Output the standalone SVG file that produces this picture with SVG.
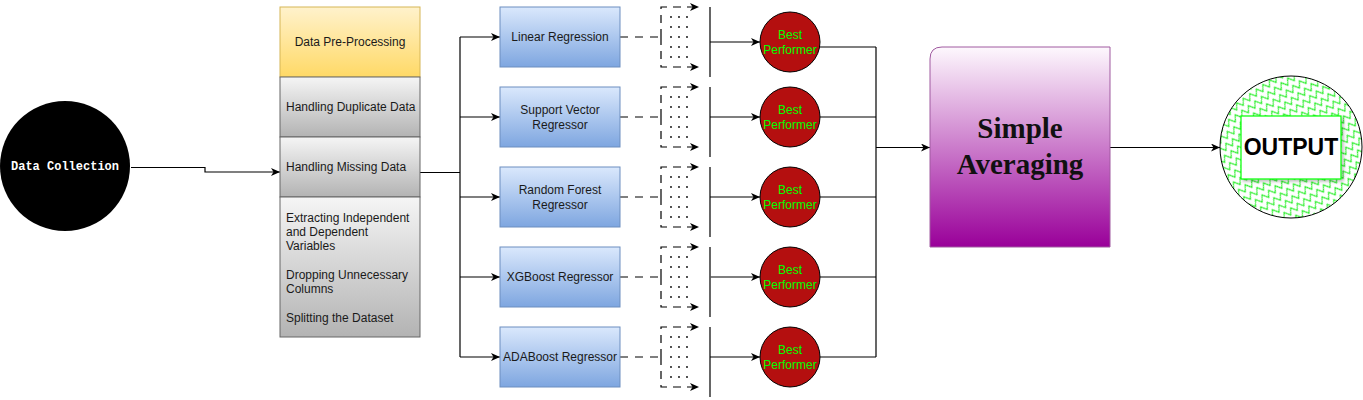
<svg xmlns="http://www.w3.org/2000/svg" width="1363" height="400" viewBox="0 0 1363 400">
<style>
.t{font-family:"Liberation Sans",Arial,sans-serif;font-size:12px;fill:#1a1a1a}
.mid{text-anchor:middle}
.bp{font-family:"Liberation Sans",Arial,sans-serif;font-size:12px;fill:#00ff00;text-anchor:middle}
.ln{fill:none;stroke:#000;stroke-width:1.2}
.arr{fill:none;stroke:#000;stroke-width:1.2;marker-end:url(#ah)}
.dash{fill:none;stroke:#000;stroke-width:1.2;stroke-dasharray:8 7}
.dasha{fill:none;stroke:#000;stroke-width:1.2;stroke-dasharray:8 6;marker-end:url(#ah)}
.gray{fill:url(#gGray);stroke:#666;stroke-width:1}
.model{fill:url(#gBlue);stroke:#6c8ebf;stroke-width:1}
.best{fill:#b40f0f;stroke:#000;stroke-width:1}
.dot{fill:#000}
</style>
<defs>
<marker id="ah" markerUnits="userSpaceOnUse" markerWidth="10" markerHeight="8" refX="9" refY="4" orient="auto">
<path d="M0,0 L9,4 L0,8 L2.5,4 z" fill="#000"/>
</marker>
<linearGradient id="gGray" x1="0" y1="0" x2="0" y2="1"><stop offset="0" stop-color="#f5f5f5"/><stop offset="1" stop-color="#b3b3b3"/></linearGradient>
<linearGradient id="gYel" x1="0" y1="0" x2="0" y2="1"><stop offset="0" stop-color="#fff2cc"/><stop offset="1" stop-color="#ffd966"/></linearGradient>
<linearGradient id="gBlue" x1="0" y1="0" x2="0" y2="1"><stop offset="0" stop-color="#dae8fc"/><stop offset="1" stop-color="#7ea6e0"/></linearGradient>
<linearGradient id="gPur" x1="0" y1="0" x2="0" y2="1"><stop offset="0" stop-color="#fdf8fd"/><stop offset="1" stop-color="#990099"/></linearGradient>
<pattern id="zig" patternUnits="userSpaceOnUse" width="8" height="9" patternTransform="rotate(-35)">
<path d="M0,4.5 L2,1.5 L6,7.5 L8,4.5" fill="none" stroke="#22ee22" stroke-width="1.2"/>
</pattern>
<filter id="sh" x="-10%" y="-10%" width="130%" height="130%"><feDropShadow dx="2" dy="2" stdDeviation="1.5" flood-color="#000" flood-opacity="0.25"/></filter>
<g id="dots">
<circle class="dot" cx="671" cy="-20" r="0.9"/><circle class="dot" cx="679" cy="-20" r="0.9"/><circle class="dot" cx="687" cy="-20" r="0.9"/>
<circle class="dot" cx="671" cy="-10" r="0.9"/><circle class="dot" cx="679" cy="-10" r="0.9"/><circle class="dot" cx="687" cy="-10" r="0.9"/>
<circle class="dot" cx="671" cy="0" r="0.9"/><circle class="dot" cx="679" cy="0" r="0.9"/><circle class="dot" cx="687" cy="0" r="0.9"/>
<circle class="dot" cx="671" cy="10" r="0.9"/><circle class="dot" cx="679" cy="10" r="0.9"/><circle class="dot" cx="687" cy="10" r="0.9"/>
<circle class="dot" cx="671" cy="20" r="0.9"/><circle class="dot" cx="679" cy="20" r="0.9"/><circle class="dot" cx="687" cy="20" r="0.9"/>
</g>
</defs>
<rect width="1363" height="400" fill="#fff"/>

<g id="connectors">
<path class="arr" d="M131,167.5 H205 V172 H280"/>
<path class="ln" d="M420,172.5 H460"/>
<path class="ln" d="M460,37 V357"/>
<path class="arr" d="M460,37 H500"/>
<path class="arr" d="M460,117 H500"/>
<path class="arr" d="M460,197 H500"/>
<path class="arr" d="M460,277 H500"/>
<path class="arr" d="M460,357 H500"/>
<path class="dash" d="M620,37 H661"/>
<path class="dash" d="M620,117 H661"/>
<path class="dash" d="M620,197 H661"/>
<path class="dash" d="M620,277 H661"/>
<path class="dash" d="M620,357 H661"/>
<path class="ln" d="M710,7 V77 M710,87 V157 M710,167 V237 M710,247 V317 M710,327 V397"/>
<path class="arr" d="M710,42 H760"/>
<path class="arr" d="M710,117 H760"/>
<path class="arr" d="M710,197 H760"/>
<path class="arr" d="M710,277 H760" style="stroke:#555;stroke-width:1.6"/>
<path class="arr" d="M710,357 H760"/>
<path class="ln" d="M819,47 H876 M820,117 H876 M820,197 H876 M820,277 H876 M820,357 H876"/>
<path class="ln" d="M876,47 V357"/>
<path class="arr" d="M876,147.5 H930"/>
<path class="arr" d="M1110,147.5 H1220"/>
</g>

<g id="data-collection">
<circle cx="65" cy="166" r="65" fill="#000"/>
<text x="65" y="170" text-anchor="middle" font-family="'Liberation Mono','DejaVu Sans Mono',monospace" font-weight="bold" font-size="12" fill="#fff">Data Collection</text>
</g>

<g id="pre-processing">
<rect x="280" y="7" width="140" height="70" fill="url(#gYel)" stroke="#d6b656"/>
<text class="t mid" x="350" y="45.5">Data Pre-Processing</text>
</g>
<g id="duplicate">
<rect class="gray" x="280" y="77" width="140" height="60"/>
<text class="t" x="286" y="110.5">Handling Duplicate Data</text>
</g>
<g id="missing">
<rect class="gray" x="280" y="137" width="140" height="60"/>
<text class="t" x="286" y="170.5">Handling Missing Data</text>
</g>
<g id="other-steps">
<rect class="gray" x="280" y="197" width="140" height="140"/>
<text class="t" x="286" y="221.5">Extracting Independent</text>
<text class="t" x="286" y="235.8">and Dependent</text>
<text class="t" x="286" y="250.1">Variables</text>
<text class="t" x="286" y="278.7">Dropping Unnecessary</text>
<text class="t" x="286" y="293">Columns</text>
<text class="t" x="286" y="321.5">Splitting the Dataset</text>
</g>

<g id="linear">
<rect class="model" x="500" y="7" width="120" height="60"/>
<text class="t mid" x="560" y="41">Linear Regression</text>
</g>
<g id="svr">
<rect class="model" x="500" y="87" width="120" height="60"/>
<text class="t mid" x="560" y="113.5">Support Vector</text>
<text class="t mid" x="560" y="128.5">Regressor</text>
</g>
<g id="rf">
<rect class="model" x="500" y="167" width="120" height="60"/>
<text class="t mid" x="560" y="193.5">Random Forest</text>
<text class="t mid" x="560" y="208.5">Regressor</text>
</g>
<g id="xgb">
<rect class="model" x="500" y="247" width="120" height="60"/>
<text class="t mid" x="560" y="281">XGBoost Regressor</text>
</g>
<g id="ada">
<rect class="model" x="500" y="327" width="120" height="60"/>
<text class="t mid" x="560" y="361">ADABoost Regressor</text>
</g>

<g id="bracket-1">
<path class="dasha" d="M661,37 V7 H699"/><path class="dasha" d="M661,37 V67 H699"/>
<use href="#dots" y="37"/>
</g>
<g id="bracket-2">
<path class="dasha" d="M661,117 V87 H699"/><path class="dasha" d="M661,117 V147 H699"/>
<use href="#dots" y="117"/>
</g>
<g id="bracket-3">
<path class="dasha" d="M661,197 V167 H699"/><path class="dasha" d="M661,197 V227 H699"/>
<use href="#dots" y="197"/>
</g>
<g id="bracket-4">
<path class="dasha" d="M661,277 V247 H699"/><path class="dasha" d="M661,277 V307 H699"/>
<use href="#dots" y="277"/>
</g>
<g id="bracket-5">
<path class="dasha" d="M661,357 V327 H699"/><path class="dasha" d="M661,357 V387 H699"/>
<use href="#dots" y="357"/>
</g>

<g id="best-1">
<circle class="best" cx="790" cy="42" r="30"/>
<text class="bp" x="790" y="39">Best</text><text class="bp" x="790" y="54">Performer</text>
</g>
<g id="best-2">
<circle class="best" cx="790" cy="117" r="30"/>
<text class="bp" x="790" y="114">Best</text><text class="bp" x="790" y="129">Performer</text>
</g>
<g id="best-3">
<circle class="best" cx="790" cy="197" r="30"/>
<text class="bp" x="790" y="194">Best</text><text class="bp" x="790" y="209">Performer</text>
</g>
<g id="best-4">
<circle class="best" cx="790" cy="277" r="30"/>
<text class="bp" x="790" y="274">Best</text><text class="bp" x="790" y="289">Performer</text>
</g>
<g id="best-5">
<circle class="best" cx="790" cy="357" r="30"/>
<text class="bp" x="790" y="354">Best</text><text class="bp" x="790" y="369">Performer</text>
</g>

<g id="simple-averaging">
<path d="M930,247 V59 Q930,47 942,47 H1110 V247 Z" fill="url(#gPur)" stroke="#a05aa0" stroke-width="1"/>
<text x="1020" y="138" text-anchor="middle" font-family="'Liberation Serif','Times New Roman',serif" font-weight="bold" font-size="29" fill="#111">Simple</text>
<text x="1020" y="174" text-anchor="middle" font-family="'Liberation Serif','Times New Roman',serif" font-weight="bold" font-size="29" fill="#111">Averaging</text>
</g>

<g id="output">
<circle cx="1291" cy="147" r="71" fill="#fff"/>
<circle cx="1291" cy="147" r="71" fill="url(#zig)" stroke="#000" stroke-width="1"/>
<rect x="1241" y="116" width="100" height="63" fill="#fff" stroke="#00ff00" stroke-width="1.2" filter="url(#sh)"/>
<text x="1291" y="155" text-anchor="middle" font-family="'Liberation Sans',Arial,sans-serif" font-weight="bold" font-size="23" fill="#000">OUTPUT</text>
</g>
</svg>
